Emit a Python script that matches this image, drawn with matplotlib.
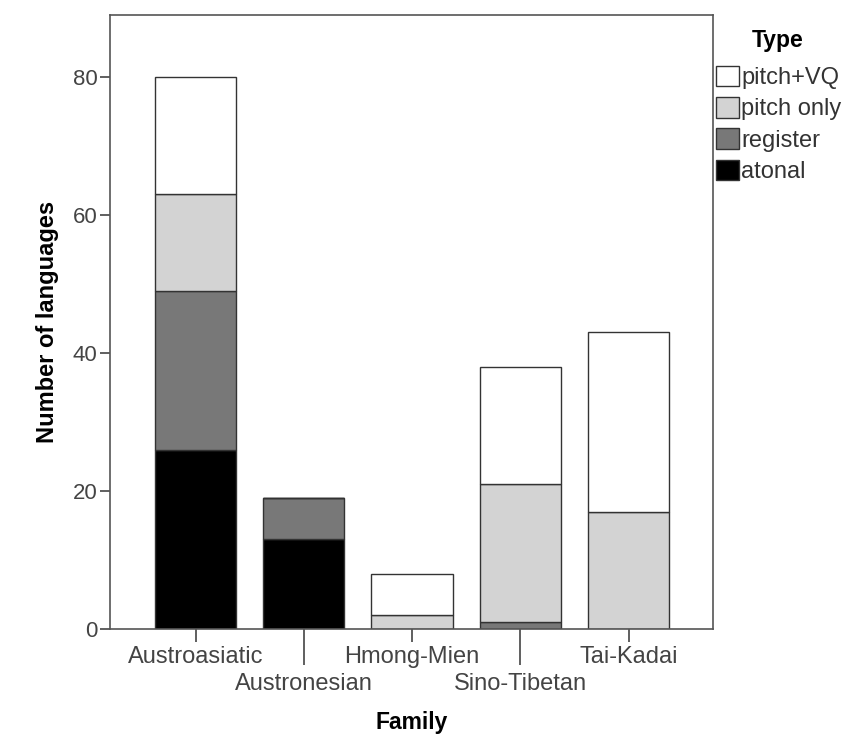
import numpy as np
import matplotlib.pyplot as plt
from matplotlib.patches import Patch

plt.rcParams['font.family'] = ['Liberation Sans', 'DejaVu Sans']

# Données
families = ['Austroasiatic', 'Austronesian', 'Hmong-Mien', 'Sino-Tibetan', 'Tai-Kadai']
types = ['atonal', 'register', 'pitch only', 'pitch+VQ']
atonal = [26, 13, 0, 0, 0]
register = [23, 6, 0, 1, 0]
pitch_only = [14, 0, 2, 20, 17]
pitch_vq = [17, 0, 6, 17, 26]
colors = ['#000000', '#787878', '#d3d3d3', '#ffffff']

fig = plt.figure(figsize=(8.5, 7.36), dpi=100)
ax = fig.add_axes([0.1294, 0.1454, 0.7094, 0.8342])

x = np.arange(len(families))
bottom = np.zeros(len(families))
for vals, col in zip([atonal, register, pitch_only, pitch_vq], colors):
    ax.bar(x, vals, width=0.75, bottom=bottom, color=col,
           edgecolor='#333333', linewidth=1.0)
    bottom += np.array(vals)

ax.set_xlim(-0.79, 4.78)
ax.set_ylim(0, 89)
ax.set_yticks([0, 20, 40, 60, 80])

for s in ax.spines.values():
    s.set_color('#555555')
    s.set_linewidth(1.2)

ax.tick_params(axis='y', labelsize=16, labelcolor='#444444', color='#444444',
               length=7, width=1.2, pad=2)

# Étiquettes alternées : paires en majeur, impaires en mineur (trait long)
ax.set_xticks(x[::2])
ax.set_xticklabels(families[::2])
ax.set_xticks(x[1::2], minor=True)
ax.set_xticklabels(families[1::2], minor=True)
ax.tick_params(axis='x', which='major', labelsize=17, labelcolor='#444444',
               color='#444444', length=9, width=1.2, pad=3)
ax.tick_params(axis='x', which='minor', labelsize=17, labelcolor='#444444',
               color='#444444', length=26, width=1.2, pad=6)

ax.set_xlabel('Family', fontsize=16.5, fontweight='bold', labelpad=11)
ax.set_ylabel('Number of languages', fontsize=17, fontweight='bold', labelpad=10)

# Légende (titre placé à part)
fig.text(778 / 850, 1 - 40 / 736, 'Type', ha='center', va='center',
         fontsize=16.5, fontweight='bold')
handles = [Patch(facecolor=c, edgecolor='#333333', linewidth=1.0) for c in colors[::-1]]
leg = fig.legend(handles, types[::-1], loc='upper left',
                 bbox_to_anchor=(0.837, 0.917), frameon=False, fontsize=17,
                 handlelength=0.95, handleheight=0.95, handletextpad=0.1,
                 labelspacing=0.34, borderaxespad=0, borderpad=0.2)
for t in leg.get_texts():
    t.set_color('#333333')

fig.savefig('out.png', dpi=100)
